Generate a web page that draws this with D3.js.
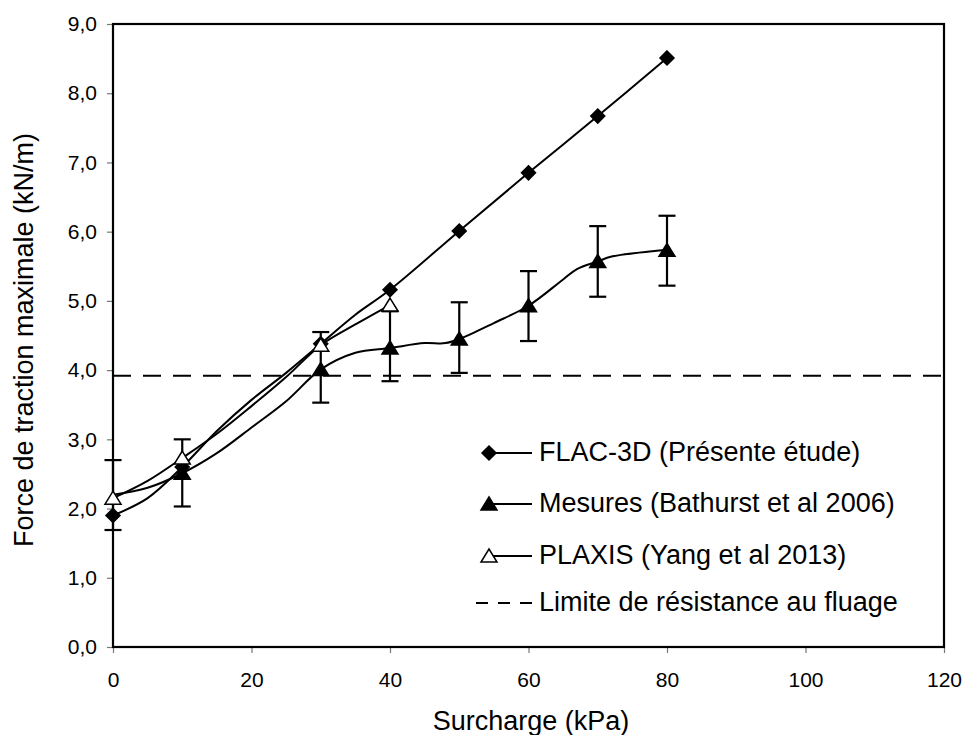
<!DOCTYPE html>
<html><head><meta charset="utf-8">
<script src="https://cdn.jsdelivr.net/npm/d3@7"></script>
<style>body{margin:0;background:#fff}svg{display:block}text{font-family:"Liberation Sans",Arial,sans-serif;fill:#000}</style>
</head><body><svg id="c" width="963" height="735"></svg>
<script>
// ---- data ----
const xTicks = [0, 20, 40, 60, 80, 100, 120];
const yTicks = [0, 1, 2, 3, 4, 5, 6, 7, 8, 9];

// FLAC-3D markers
const flacX = [0, 10, 30, 40, 50, 60, 70, 80];
const flacY = [1.90, 2.60, 4.38, 5.16, 6.01, 6.85, 7.67, 8.51];
// FLAC-3D curve
const flacLineX = [0, 5, 10, 15, 20, 25, 30, 35, 40, 50, 60, 70, 80];
const flacLineY = [1.90, 2.15, 2.60, 3.12, 3.57, 3.96, 4.38, 4.80, 5.16, 6.01, 6.85, 7.67, 8.51];

// Mesures markers + error bars
const mesX = [10, 30, 40, 50, 60, 70, 80];
const mesY = [2.51, 4.01, 4.32, 4.45, 4.93, 5.57, 5.73];
const errX = [0, 10, 30, 40, 50, 60, 70, 80];
const errLow = [1.69, 2.03, 3.53, 3.84, 3.96, 4.42, 5.06, 5.22];
const errHigh = [2.70, 3.00, 4.55, 4.85, 4.98, 5.43, 6.08, 6.23];
// Mesures curve
const mesLineX = [0, 5, 10, 15, 20, 25, 30, 35, 40, 45, 48, 50, 55, 60, 65, 67, 70, 72, 80];
const mesLineY = [2.20, 2.30, 2.51, 2.80, 3.17, 3.55, 4.01, 4.25, 4.32, 4.39, 4.39, 4.45, 4.68, 4.93, 5.31, 5.46, 5.57, 5.64, 5.74];

// PLAXIS markers
const plaxX = [0, 10, 30, 40];
const plaxY = [2.15, 2.73, 4.36, 4.94];
// PLAXIS curve
const plaxLineX = [0, 5, 10, 15, 20, 25, 30, 35, 40];
const plaxLineY = [2.15, 2.40, 2.73, 3.08, 3.48, 3.90, 4.36, 4.66, 4.94];

const creepLimit = 3.92;

const legendLabels = ["FLAC-3D (Présente étude)", "Mesures (Bathurst et al 2006)", "PLAXIS (Yang et al 2013)", "Limite de résistance au fluage"];
const xTitle = "Surcharge (kPa)";
const yTitle = "Force de traction maximale (kN/m)";

// ---- drawing ----
const svg = d3.select("#c");
const x = d3.scaleLinear().domain([0, 120]).range([113, 944]);
const y = d3.scaleLinear().domain([0, 9]).range([647, 24]);
const fmt = v => d3.format(".1f")(v).replace(".", ",");

// axes
const gy = svg.append("g").attr("transform", `translate(${x(0)},0)`)
  .call(d3.axisLeft(y).tickValues(yTicks).tickSize(6).tickPadding(10).tickFormat(fmt));
const gx = svg.append("g").attr("transform", `translate(0,${y(0)})`)
  .call(d3.axisBottom(x).tickValues(xTicks).tickSize(6).tickPadding(19).tickFormat(d3.format("d")));
[gx, gy].forEach(g => {
  g.select(".domain").remove();
  g.selectAll(".tick line").attr("stroke", "#777").attr("stroke-width", 1.2);
  g.selectAll(".tick text").style("font-size", "21px").attr("fill", "#000");
});

// frame
svg.append("rect").attr("x", x(0)).attr("y", y(9)).attr("width", x(120) - x(0)).attr("height", y(0) - y(9))
  .attr("fill", "none").attr("stroke", "#000").attr("stroke-width", 2.2);

// creep limit dashed line
svg.append("line").attr("x1", x(0)).attr("x2", x(120)).attr("y1", y(creepLimit)).attr("y2", y(creepLimit))
  .attr("stroke", "#000").attr("stroke-width", 2).attr("stroke-dasharray", "18,12");

const line = d3.line().x(d => x(d[0])).y(d => y(d[1])).curve(d3.curveCatmullRom.alpha(0.5));
const zip = (a, b) => a.map((v, i) => [v, b[i]]);
[[flacLineX, flacLineY], [mesLineX, mesLineY], [plaxLineX, plaxLineY]].forEach(([a, b]) => {
  svg.append("path").attr("d", line(zip(a, b))).attr("fill", "none").attr("stroke", "#000").attr("stroke-width", 2);
});

// error bars
const eb = svg.append("g").attr("stroke", "#000").attr("stroke-width", 2.2);
errX.forEach((v, i) => {
  const cx = x(v);
  eb.append("line").attr("x1", cx).attr("x2", cx).attr("y1", y(errLow[i])).attr("y2", y(errHigh[i]));
  eb.append("line").attr("x1", cx - 8.5).attr("x2", cx + 8.5).attr("y1", y(errLow[i])).attr("y2", y(errLow[i]));
  eb.append("line").attr("x1", cx - 8.5).attr("x2", cx + 8.5).attr("y1", y(errHigh[i])).attr("y2", y(errHigh[i]));
});

const diamond = "M0,-7L7,0L0,7L-7,0Z";
const tri = "M0,-7L8,6L-8,6Z";
function markers(xs, ys, path, fill) {
  svg.append("g").selectAll("path").data(zip(xs, ys)).join("path")
    .attr("d", path).attr("transform", d => `translate(${x(d[0])},${y(d[1])})`)
    .attr("fill", fill).attr("stroke", "#000").attr("stroke-width", 1.5);
}
markers(flacX, flacY, diamond, "#000");
markers(mesX, mesY, tri, "#000");
markers(plaxX, plaxY, tri, "#fff");

// legend
const rows = [453, 504, 556, 603];
const lg = svg.append("g");
rows.forEach((ry, i) => {
  const l = lg.append("line").attr("x1", 489).attr("x2", 532).attr("y1", ry).attr("y2", ry)
    .attr("stroke", "#000").attr("stroke-width", 2);
  if (i === 3) l.attr("x1", 476).attr("stroke-dasharray", "12,10");
  if (i === 0) lg.append("path").attr("d", diamond).attr("transform", `translate(489,${ry})`).attr("fill", "#000").attr("stroke", "#000").attr("stroke-width", 1.5);
  if (i === 1) lg.append("path").attr("d", tri).attr("transform", `translate(489,${ry})`).attr("fill", "#000").attr("stroke", "#000").attr("stroke-width", 1.5);
  if (i === 2) lg.append("path").attr("d", tri).attr("transform", `translate(489,${ry})`).attr("fill", "#fff").attr("stroke", "#000").attr("stroke-width", 1.5);
  lg.append("text").attr("x", 539).attr("y", ry + 8).style("font-size", "27px").text(legendLabels[i]);
});

// titles
svg.append("text").attr("x", 531).attr("y", 730).attr("text-anchor", "middle").style("font-size", "27px").text(xTitle);
svg.append("text").attr("transform", "translate(33,340) rotate(-90)").attr("text-anchor", "middle").style("font-size", "27px").text(yTitle);
</script>
</body></html>
